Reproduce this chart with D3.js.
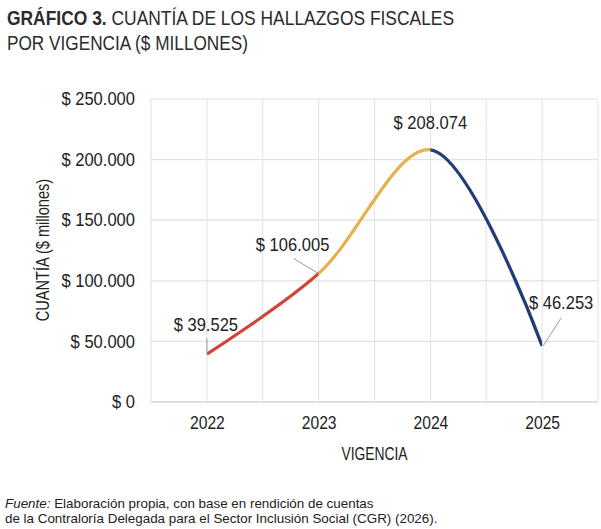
<!DOCTYPE html>
<html>
<head>
<meta charset="utf-8">
<script src="https://cdn.jsdelivr.net/npm/d3@7"></script>
<style>
  body { margin: 0; background: #fff; }
  svg { display: block; }
  .cond { font-family: "Liberation Sans", Arial, sans-serif; }
  .plain { font-family: "Liberation Sans", Arial, sans-serif; }
</style>
</head>
<body>
<div id="chart"></div>
<script>
// Data
const years = [2022, 2023, 2024, 2025];
const amounts = [39525, 106005, 208074, 46253];
const segmentColors = ['#d1443a', '#e8b04c', '#233a7b'];
const yTicks = [0, 50000, 100000, 150000, 200000, 250000];

// Label placement (dx, dy from point) and leader lines
const labelPos = [
  {dx: -1, dy: -30, lead: [[0, -16], [0, -1]]},
  {dx: -26, dy: -29, lead: [[-25, -15], [0, 0]]},
  {dx: 0, dy: -27, lead: null},
  {dx: 19, dy: -43, lead: [[19, -28], [1, 0]]}
];

const W = 601, H = 529;
const plot = {left: 151, right: 598, top: 99, bottom: 402};

const svg = d3.select('#chart').append('svg')
  .attr('width', W).attr('height', H);

const x = d3.scaleLinear().domain([2021.5, 2025.5]).range([plot.left, plot.right]);
const y = d3.scaleLinear().domain([0, 250000]).range([plot.bottom, plot.top]);

const locale = d3.formatLocale({decimal: ',', thousands: '.', grouping: [3], currency: ['$ ', '']});
const fmt = locale.format('$,.0f');

// squeeze text horizontally to mimic a condensed face
function condense(sel, s, extra) {
  sel.each(function() {
    const t = d3.select(this);
    const tx = +t.attr('x') || 0, ty = +t.attr('y') || 0;
    t.attr('x', 0).attr('y', 0)
      .attr('transform', `translate(${tx},${ty}) ${extra || ''} scale(${s},1)`);
  });
}

// Title
const title = svg.append('text').attr('class', 'cond')
  .attr('x', 7).attr('y', 25).attr('font-size', 21).attr('fill', '#2b2b2b');
title.append('tspan').attr('font-weight', 'bold').text('GRÁFICO 3.');
title.append('tspan').text(' CUANTÍA DE LOS HALLAZGOS FISCALES');
condense(title, 0.83);
const title2 = svg.append('text').attr('class', 'cond')
  .attr('x', 7).attr('y', 50).attr('font-size', 21).attr('fill', '#2b2b2b')
  .text('POR VIGENCIA ($ MILLONES)');
condense(title2, 0.82);

// Grid
const grid = svg.append('g');
grid.selectAll('.vg').data(d3.range(2021.5, 2025.51, 0.5)).enter().append('line')
  .attr('x1', d => x(d)).attr('x2', d => x(d))
  .attr('y1', plot.top).attr('y2', plot.bottom)
  .attr('stroke', '#e2e2e2').attr('stroke-width', 1);
grid.selectAll('.hg').data(yTicks).enter().append('line')
  .attr('x1', plot.left).attr('x2', plot.right)
  .attr('y1', d => y(d)).attr('y2', d => y(d))
  .attr('stroke', d => d === 0 ? '#d6d6d6' : '#e2e2e2').attr('stroke-width', d => d === 0 ? 1.5 : 1.2);

// Axes (labels only)
const yAxis = svg.append('g').attr('transform', `translate(${plot.left},0)`)
  .call(d3.axisLeft(y).tickValues(yTicks).tickFormat(fmt).tickSize(0).tickPadding(16));
yAxis.select('.domain').remove();
yAxis.selectAll('text').attr('class', 'cond').attr('font-size', 18).attr('fill', '#222')
  .call(condense, 0.92);

const xAxis = svg.append('g').attr('transform', `translate(0,${plot.bottom})`)
  .call(d3.axisBottom(x).tickValues(years).tickFormat(d3.format('d')).tickSize(0).tickPadding(14));
xAxis.select('.domain').remove();
xAxis.selectAll('text').attr('class', 'cond').attr('font-size', 18).attr('fill', '#222')
  .call(condense, 0.87);

const yTitle = svg.append('text').attr('class', 'cond')
  .attr('x', 49).attr('y', 250)
  .attr('text-anchor', 'middle').attr('font-size', 18).attr('fill', '#222')
  .text('CUANTÍA ($ millones)');
condense(yTitle, 0.81, 'rotate(-90)');
const xTitle = svg.append('text').attr('class', 'cond')
  .attr('x', x(2023.5)).attr('y', 460)
  .attr('text-anchor', 'middle').attr('font-size', 18).attr('fill', '#222')
  .text('VIGENCIA');
condense(xTitle, 0.77);

// Smoothed line, coloured per segment via clip paths
const pts = years.map((yr, i) => [x(yr), y(amounts[i])]);
const line = d3.line().curve(d3.curveCatmullRom.alpha(0.5));
const defs = svg.append('defs');
segmentColors.forEach((c, i) => {
  defs.append('clipPath').attr('id', 'seg' + i).append('rect')
    .attr('x', pts[i][0]).attr('width', pts[i + 1][0] - pts[i][0])
    .attr('y', 0).attr('height', H);
  svg.append('path').attr('d', line(pts))
    .attr('fill', 'none').attr('stroke', c).attr('stroke-width', 3.2)
    .attr('clip-path', `url(#seg${i})`);
});

// Data labels
pts.forEach((p, i) => {
  const o = labelPos[i];
  if (o.lead) {
    svg.append('line')
      .attr('x1', p[0] + o.lead[0][0]).attr('y1', p[1] + o.lead[0][1])
      .attr('x2', p[0] + o.lead[1][0]).attr('y2', p[1] + o.lead[1][1])
      .attr('stroke', '#9a9a9a').attr('stroke-width', 1);
  }
  svg.append('text').attr('class', 'cond')
    .attr('x', p[0] + o.dx).attr('y', p[1] + o.dy + 6.5)
    .attr('text-anchor', 'middle')
    .attr('font-size', 18).attr('fill', '#222')
    .text(fmt(amounts[i]))
    .call(condense, 0.92);
});

// Source
const src = svg.append('text').attr('class', 'plain')
  .attr('x', 5).attr('y', 508).attr('font-size', 13.4).attr('fill', '#222');
src.append('tspan').attr('font-style', 'italic').text('Fuente:');
src.append('tspan').text(' Elaboración propia, con base en rendición de cuentas');
svg.append('text').attr('class', 'plain')
  .attr('x', 5).attr('y', 523).attr('font-size', 13.4).attr('fill', '#222')
  .text('de la Contraloría Delegada para el Sector Inclusión Social (CGR) (2026).');
</script>
</body>
</html>
